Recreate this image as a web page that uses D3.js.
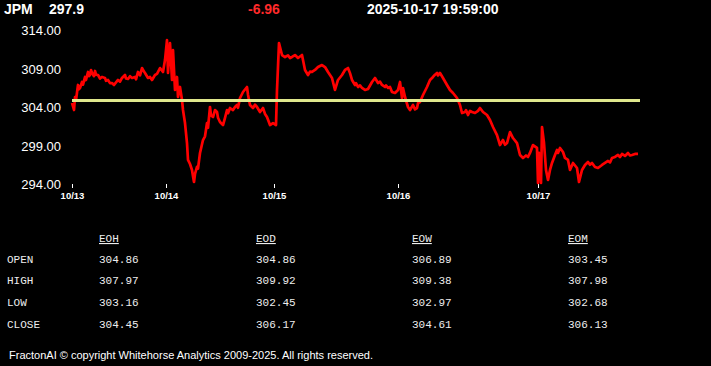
<!DOCTYPE html>
<html><head><meta charset="utf-8">
<script src="https://cdn.jsdelivr.net/npm/d3@7"></script>
<style>
html,body{margin:0;padding:0;background:#000;}
svg{display:block;}
</style></head>
<body>
<script>
// ---- data ----
const symbol = "JPM";
const lastPrice = "297.9";
const change = "-6.96";
const timestamp = "2025-10-17 19:59:00";
const refLevel = 304.86;
const yTicks = [294, 299, 304, 309, 314];
const dayLabels = ["10/13", "10/14", "10/15", "10/16", "10/17"];
const dayIndex = [0, 47, 101, 163, 233];
const lastIndex = 283;
// [bar index, price]
const prices = [
[0,304.52],[1,303.61],[1.5,305.30],[2,304.9],[3,306.86],[3.5,306.3],[4,306.47],[5,307.25],[5.5,306.9],[6.5,307.90],[7,307.5],[8,308.55],[8.5,308.0],[9,308.16],[9.5,308.8],[10,308.42],
[11,308.0],[11.5,308.68],[12,308.2],[13,308.16],[14,307.7],[15,307.90],[16.5,307.77],[17,307.4],[18,307.51],[19,307.1],[20,307.12],[21,306.86],[22,307.2],[23,307.51],[24,307.3],[25,307.77],[26.5,308.16],
[27,307.7],[28,307.64],[29,308.0],[30,307.77],[31.5,307.90],[32,307.6],[33,308.55],[34,308.1],[35,309.06],[36,308.6],[36.5,308.42],[38,307.77],[39,307.9],[40,307.51],[41.5,308.16],[42.5,308.3],[44,309.06],
[45.5,308.55],[46.5,310.10],[47.5,312.70],[48,308.42],[49,312.31],[50,307.51],[50.5,311.40],[51.5,306.21],[52.5,307.90],[53,305.30],
[54,306.60],[55,304.91],[55.5,303.61],[56.5,301.92],[57.5,299.32],[58,297.12],[59,296.6],[60,295.82],[60.5,295.0],[61,294.26],[61.5,295.3],[62.5,296.21],[63,296.0],[64,298.03],
[65.5,299.71],[66.5,300.2],[67.5,301.92],[68,301.3],[69,304.00],[69.5,302.9],[70.5,302.70],[71.5,303.6],[72.5,303.35],[73,302.6],[74,302.05],[75.5,301.66],[76.5,302.6],[77.5,303.61],[78,303.2],[79,303.87],[80.5,303.61],
[81.5,304.0],[82.5,304.26],[83,303.9],[84,305.17],[85.5,305.95],[87.5,306.60],[88,305.6],[89,304.26],[90.5,303.87],[91.5,304.3],[92.5,304.00],[94,303.35],[95.5,303.87],[96.5,303.1],[97.5,302.70],
[99,301.66],[100.5,301.92],[102,301.66],[102.5,306.21],[103.5,312.31],[105,310.75],[106.5,310.49],[108,310.7],[109,310.36],[110,310.5],[111.5,310.75],[113,310.36],
[115,310.75],[116.5,308.81],[118,308.16],[119,308.6],[120,308.55],[121.5,308.81],[123,309.19],[125,309.45],[126.5,309.19],[128,308.55],[130,307.77],
[131.5,306.21],[133,307.51],[135,308.16],[136.5,308.81],[138,309.06],[139,308.4],[140,307.51],[141.5,306.86],[142,307.1],[143,306.60],[144,306.8],[145,306.47],[146.5,306.21],
[148,306.34],[150,307.25],[151.5,307.77],[153,307.12],[154,307.3],[155,306.86],[156.5,306.60],[157,306.8],[158,306.47],[159,306.6],[160,305.95],[161.5,305.82],[163,306.21],
[164,307.25],[165,305.17],[165.5,306.47],[166.5,305.30],[168,304.00],[169,303.61],[170.5,304.26],[171.5,303.7],[172.5,303.87],[173,304.5],[174,304.65],[175.5,305.56],
[177.5,306.60],[179,307.51],[180.5,307.90],[181.5,308.2],[182.5,308.42],[183,308.1],[184,308.42],[185.5,307.77],[187.5,306.86],[189,306.21],[190.5,305.82],[192.5,305.17],
[194,304.26],[195,303.22],[196.5,303.35],[197,303.6],[198,302.96],[199,303.5],[200,303.35],[201.5,303.22],[203,303.5],[204,303.87],[205.5,303.35],[207.5,302.96],[209,302.31],
[210.5,301.40],[212.5,300.36],[214,299.06],[215.5,299.71],[216.5,299.1],[217.5,299.32],[219,300.75],[220.5,299.97],[222.5,299.32],[224,297.77],[225.5,297.38],
[227,297.7],[228,297.51],[229,298.03],[230.5,299.06],[232.5,298.68],[233,294.13],[233.5,298.03],[234.5,294.13],[235,301.40],[236,299.32],[237,295.82],
[238,294.52],[239,295.82],[240,296.73],[241.5,297.77],[242.5,298.42],[243,298.03],[244,298.68],[245.5,298.16],[246.5,297.38],[248,297.12],
[249,295.82],[250.5,296.73],[252.5,296.08],[253.5,294.26],[255,295.82],[256.5,296.47],[258,296.86],[259,296.5],[260,296.73],[261.5,296.21],[263,296.08],
[265,296.47],[266.5,296.73],[268,296.99],[269,296.8],[270,297.38],[271.5,297.51],[273,297.77],[274,297.5],[275,297.90],[276.5,297.64],[278,298.03],[279,297.7],[280,297.77],
[281.5,297.90],[283,297.90]
];
const tableCols = ["EOH", "EOD", "EOW", "EOM"];
const tableRows = ["OPEN", "HIGH", "LOW", "CLOSE"];
const eohVals = [304.86, 307.97, 303.16, 304.45];
const eodVals = [304.86, 309.92, 302.45, 306.17];
const eowVals = [306.89, 309.38, 302.97, 304.61];
const eomVals = [303.45, 307.98, 302.68, 306.13];
const footer = "FractonAI \u00a9 copyright Whitehorse Analytics 2009-2025. All rights reserved.";

// ---- drawing ----
const W = 711, H = 366;
const svg = d3.select("body").append("svg").attr("width", W).attr("height", H)
  .style("background", "#000");
const sans = "'Liberation Sans', Arial, sans-serif";
const mono = "'Liberation Mono', 'DejaVu Sans Mono', monospace";

// header
const hdr = svg.append("g").attr("font-family", sans).attr("font-weight", "bold")
  .attr("font-size", 14).attr("fill", "#fff");
hdr.append("text").attr("x", 4).attr("y", 14).text(symbol);
hdr.append("text").attr("x", 49).attr("y", 14).text(lastPrice);
hdr.append("text").attr("x", 248).attr("y", 14).attr("fill", "#ff2a2a").text(change);
hdr.append("text").attr("x", 367).attr("y", 14).text(timestamp);

const x = d3.scaleLinear().domain([0, lastIndex]).range([72, 638]);
const y = d3.scaleLinear().domain([294, 314]).range([184, 30]);

// y axis labels
const yAxis = d3.axisLeft(y).tickValues(yTicks).tickFormat(d3.format(".2f")).tickSize(0).tickPadding(0);
const yg = svg.append("g").attr("transform", "translate(61,0)").call(yAxis);
yg.select(".domain").remove();
yg.selectAll("text").attr("fill", "#fff").attr("font-family", sans).attr("font-size", 13)
  .attr("dy", "0.36em");

// x axis
const xAxis = d3.axisBottom(x).tickValues(dayIndex).tickFormat((d, i) => dayLabels[i])
  .tickSize(4).tickPadding(4);
const xg = svg.append("g").attr("transform", "translate(0,184)").call(xAxis);
xg.select(".domain").remove();
xg.selectAll("line").attr("stroke", "#fff");
xg.selectAll("text").attr("fill", "#fff").attr("font-family", sans).attr("font-size", 9.5)
  .attr("font-weight", "bold");

// price line
const line = d3.line().x(d => x(d[0])).y(d => y(d[1]));
svg.append("path").datum(prices).attr("d", line).attr("fill", "none")
  .attr("stroke", "#ff0000").attr("stroke-width", 2.7).attr("stroke-linejoin", "round");

// reference line
svg.append("line").attr("x1", x(0)).attr("x2", x(lastIndex) + 2)
  .attr("y1", y(refLevel)).attr("y2", y(refLevel))
  .attr("stroke", "#dfe78c").attr("stroke-width", 3);

// table
const colX = [99, 256, 412, 568];
const rowY = [263, 284, 306, 328];
const cols = [eohVals, eodVals, eowVals, eomVals];
const tg = svg.append("g").attr("font-family", mono).attr("font-size", 11).attr("fill", "#eee");
tableCols.forEach((c, i) => {
  tg.append("text").attr("x", colX[i]).attr("y", 242).attr("text-decoration", "underline").text(c);
});
tableRows.forEach((r, j) => {
  tg.append("text").attr("x", 7).attr("y", rowY[j]).text(r);
  cols.forEach((vals, i) => {
    tg.append("text").attr("x", colX[i]).attr("y", rowY[j]).text(vals[j].toFixed(2));
  });
});

// footer
svg.append("text").attr("x", 9).attr("y", 359).attr("font-family", sans).attr("font-size", 11.5)
  .attr("fill", "#fff").attr("textLength", 364).attr("lengthAdjust", "spacingAndGlyphs").text(footer);
</script>
</body></html>
